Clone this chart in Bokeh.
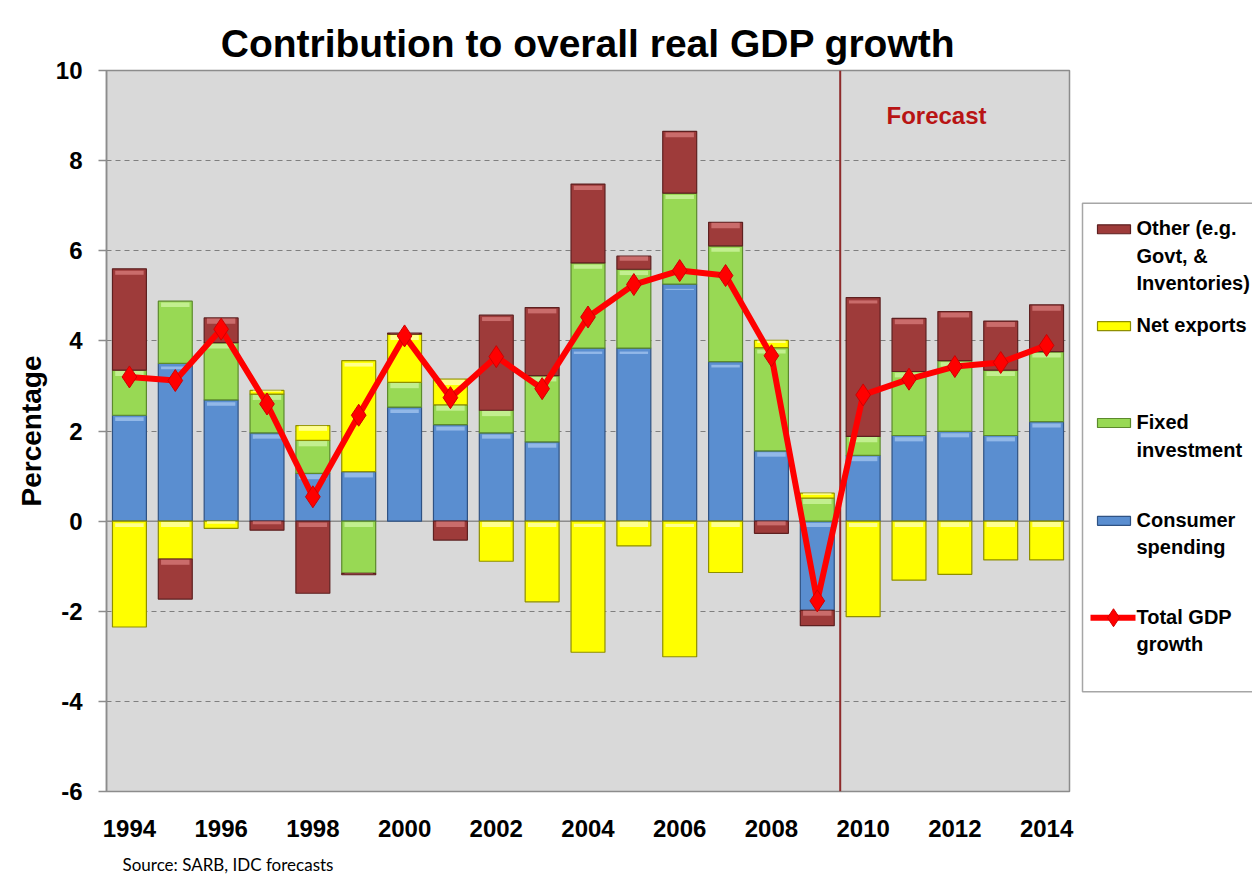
from bokeh.plotting import figure
from bokeh.models import (ColumnDataSource, Range1d, FixedTicker, Span, Label, Title)
from bokeh.layouts import row
from bokeh.embed import file_html
from bokeh.resources import INLINE
from bokeh.core.properties import value

# ---------------- data ----------------
years = list(range(1994, 2015))
consumer = [2.35, 3.50, 2.69, 1.96, 1.06, 1.10, 2.53, 2.14, 1.96, 1.76, 3.84,
            3.84, 5.26, 3.54, 1.56, -1.98, 1.46, 1.90, 1.99, 1.90, 2.21]
fixed = [1.00, 1.38, 1.27, 0.86, 0.73, -1.16, 0.55, 0.44, 0.50, 1.47, 1.89,
         1.75, 2.02, 2.57, 2.29, 0.51, 0.42, 1.42, 1.57, 1.45, 1.55]
net_exports = [-2.35, -0.84, -0.16, 0.08, 0.33, 2.46, 1.07, 0.57, -0.89, -1.79, -2.91,
               -0.55, -3.01, -1.14, 0.16, 0.11, -2.12, -1.31, -1.18, -0.86, -0.86]
other = [2.25, -0.89, 0.55, -0.20, -1.60, -0.03, 0.02, -0.42, 2.11, 1.51, 1.75,
         0.29, 1.37, 0.52, -0.27, -0.34, 3.08, 1.18, 1.09, 1.09, 1.04]
total = [3.20, 3.12, 4.26, 2.60, 0.54, 2.35, 4.11, 2.74, 3.65, 2.94, 4.53,
         5.25, 5.56, 5.45, 3.67, -1.77, 2.80, 3.15, 3.43, 3.52, 3.90]

series_names = ["Consumer spending", "Fixed investment", "Net exports", "Other"]
series_values = [consumer, fixed, net_exports, other]
fill_colors = ["#5A8ED0", "#98D954", "#FFFF00", "#9E3B3A"]
hi_colors = ["#9CC0EC", "#C9F29A", "#FFFFA8", "#D17574"]
edge_colors = ["#2F5283", "#5C8A2C", "#8F8F00", "#5E2020"]
forecast_start = 2009.5
x_tick_years = years[::2]
y_ticks = list(range(-6, 11, 2))

legend_labels = ["Other (e.g.\nGovt,  &\nInventories)", "Net exports",
                 "Fixed\ninvestment", "Consumer\nspending", "Total GDP\ngrowth"]

FONT = "Liberation Sans"
TOP, BOTTOM_PX, H = 70, 792, 886
MAIN_W, LEG_W = 1076, 176

# ---------------- main figure ----------------
p = figure(width=MAIN_W, height=H, output_backend="svg", toolbar_location=None,
           x_range=Range1d(1993.5, 2014.5), y_range=Range1d(-6, 10),
           min_border_left=106, min_border_right=7, min_border_top=TOP,
           min_border_bottom=H - BOTTOM_PX)
p.background_fill_color = "#D9D9D9"
p.border_fill_color = "white"
p.outline_line_color = "#8C8C8C"
p.outline_line_width = 1.5

p.title.text = "Contribution to overall real GDP growth"
p.title.text_font = FONT
p.title.text_font_size = "39px"
p.title.text_font_style = "bold"
p.title.align = "center"
p.title.text_color = "black"
p.title.standoff = 12

# stacked bars (positive stack up, negative stack down)
pos_acc = [0.0] * len(years)
neg_acc = [0.0] * len(years)
for name, vals, fc, hc, ec in zip(series_names, series_values, fill_colors, hi_colors, edge_colors):
    tops, bots, htops, hbots = [], [], [], []
    for i, v in enumerate(vals):
        if v >= 0:
            b, t = pos_acc[i], pos_acc[i] + v
            pos_acc[i] = t
        else:
            t, b = neg_acc[i], neg_acc[i] + v
            neg_acc[i] = b
        tops.append(t)
        bots.append(b)
        h = min(0.13, 0.35 * (t - b))
        htops.append(t - 0.02 * (t - b))
        hbots.append(t - h)
    src = ColumnDataSource(dict(x=years, top=tops, bottom=bots, htop=htops, hbot=hbots))
    p.vbar(x="x", top="top", bottom="bottom", width=0.74, source=src,
           fill_color=fc, line_color=ec, line_width=1.2)
    p.vbar(x="x", top="htop", bottom="hbot", width=0.62, source=src,
           fill_color=hc, line_color=None, fill_alpha=0.85)

# zero line and forecast divider
p.add_layout(Span(location=0, dimension="width", line_color="#8C8C8C",
                  line_width=1.5, level="underlay"))
p.add_layout(Span(location=forecast_start, dimension="height", line_color="#8E2B2B",
                  line_width=2, level="underlay"))

# total line
p.line(years, total, line_color="#FF0000", line_width=6)
p.scatter(years, total, marker="diamond", size=22, fill_color="#FF0000",
          line_color="#D00000", line_width=1)

p.add_layout(Label(x=2011.6, y=9.0, text="Forecast", text_font=FONT,
                   text_font_size="24px", text_font_style="bold",
                   text_color="#B81414", text_align="center", text_baseline="middle"))

# axes
p.xaxis.ticker = FixedTicker(ticks=x_tick_years)
p.xaxis.axis_line_color = None
p.xaxis.major_tick_line_color = None
p.xaxis.minor_tick_line_color = None
p.xaxis.major_label_text_font = FONT
p.xaxis.major_label_text_font_size = "24px"
p.xaxis.major_label_text_font_style = "bold"
p.xaxis.major_label_text_color = "black"
p.xaxis.major_label_standoff = 22

p.yaxis.ticker = FixedTicker(ticks=y_ticks)
p.yaxis.major_label_overrides = {t: str(t) for t in y_ticks}
p.yaxis.axis_line_color = "#8C8C8C"
p.yaxis.axis_line_width = 1.5
p.yaxis.major_tick_line_color = "#8C8C8C"
p.yaxis.major_tick_line_width = 1.5
p.yaxis.major_tick_out = 8
p.yaxis.major_tick_in = 0
p.yaxis.minor_tick_line_color = None
p.yaxis.major_label_text_font = FONT
p.yaxis.major_label_text_font_size = "24px"
p.yaxis.major_label_text_font_style = "bold"
p.yaxis.major_label_text_color = "black"
p.yaxis.major_label_standoff = 16
p.yaxis.axis_label = "Percentage"
p.yaxis.axis_label_text_font = FONT
p.yaxis.axis_label_text_font_size = "28px"
p.yaxis.axis_label_text_font_style = "bold"
p.yaxis.axis_label_text_color = "black"
p.yaxis.axis_label_standoff = 6

p.xgrid.grid_line_color = None
p.ygrid.grid_line_color = "#7F7F7F"
p.ygrid.grid_line_dash = "5 4"
p.ygrid.grid_line_width = 1.2

p.add_layout(Title(text="Source: SARB, IDC forecasts", text_font="Lato",
                   text_font_size="17px", text_font_style="normal",
                   text_color="black", align="left", offset=16, standoff=24), "below")

# ---------------- legend figure (page-pixel coordinates) ----------------
leg = figure(width=LEG_W, height=H, output_backend="svg", toolbar_location=None,
             x_range=Range1d(MAIN_W, MAIN_W + LEG_W), y_range=Range1d(BOTTOM_PX, TOP),
             min_border_left=0, min_border_right=0,
             min_border_top=TOP, min_border_bottom=H - BOTTOM_PX)
leg.axis.visible = False
leg.grid.visible = False
leg.outline_line_color = None
leg.background_fill_color = "white"
leg.border_fill_color = "white"

leg.quad(left=[1082], right=[1270], top=[203], bottom=[692],
         fill_color="white", line_color="#A6A6A6", line_width=1.5)

sw_y = [229, 326, 423, 521, 618]
bar_order = [3, 2, 1, 0]  # other, net exports, fixed, consumer
leg.quad(left=[1097] * 4, right=[1130] * 4,
         top=[sw_y[k] - 4.5 for k in range(4)], bottom=[sw_y[k] + 4.5 for k in range(4)],
         fill_color=[fill_colors[j] for j in bar_order],
         line_color=[edge_colors[j] for j in bar_order], line_width=1.2)
leg.line([1090, 1135], [sw_y[4], sw_y[4]], line_color="#FF0000", line_width=6)
leg.scatter([1113], [sw_y[4]], marker="diamond", size=18, fill_color="#FF0000",
            line_color="#D00000")
leg.text(x=[1136] * 5, y=[y - 12 for y in sw_y], text=legend_labels,
         text_font=value(FONT), text_font_size="20px", text_font_style="bold",
         text_color="black", text_baseline="top", text_align="left",
         text_line_height=1.25)

layout = row(p, leg)
open("out.html", "w").write(file_html(layout, INLINE))
